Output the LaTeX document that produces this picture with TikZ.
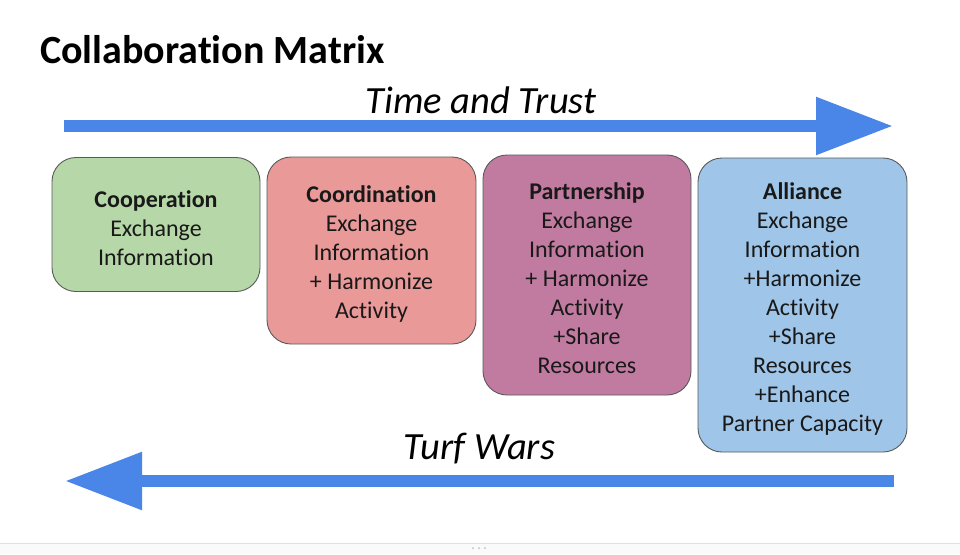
\documentclass[tikz,border=0pt]{standalone}
\usepackage{fontspec}
\setmainfont{Carlito}[Ligatures=NoCommon, RawFeature={-liga;-clig;-calt}]
\usetikzlibrary{arrows.meta}
\definecolor{arrowblue}{HTML}{4A86E8}
\definecolor{cgreen}{HTML}{B6D7A8}
\definecolor{cred}{HTML}{EA9999}
\definecolor{cpurple}{HTML}{C27BA0}
\definecolor{cblue}{HTML}{9FC5E8}
\definecolor{edgegray}{HTML}{5A5A5A}
\newcommand{\firstrule}{\rule{0pt}{24pt}}
\tikzset{
  stagebox/.style={draw=edgegray, line width=0.9pt, rounded corners=24pt,
    inner sep=0pt, align=center, text=black!90,
    font=\fontsize{24}{29}\selectfont},
  bigarrow/.style={draw=arrowblue, line width=12pt,
    -{Triangle[length=77pt, width=55pt]}},
  bandlabel/.style={anchor=base, font=\fontsize{38.5}{44}\selectfont\itshape}
}
\begin{document}
\begin{tikzpicture}[x=1pt, y=-1pt]
\useasboundingbox (0,0) rectangle (960,554);
\fill[white] (0,0) rectangle (960,554);
% bottom strip
\fill[black!2] (0,543.5) rectangle (960,554);
\draw[black!12, line width=0.8pt] (0,543.5) -- (960,543.5);
\foreach \dx in {-6,0,6} \fill[black!25] (479+\dx,548) circle (1pt);

% title
\node[anchor=base west, inner sep=0pt, font=\fontsize{40}{46}\selectfont\bfseries] (title) at (40,63) {Collaboration Matrix};

% top arrow
\coordinate (ta) at (64,126);
\coordinate (tb) at (893,126);
\draw[bigarrow] (ta) -- (tb);
\node[bandlabel, inner sep=0pt] (tt) at (481,113) {Time and Trust};

% boxes
\node[stagebox, fill=cgreen, minimum width=208pt, minimum height=134pt] (coop) at (156,224.5)
  {\firstrule\textbf{Cooperation}\\Exchange\\Information};
\node[stagebox, fill=cred, minimum width=209pt, minimum height=187pt] (coord) at (371.5,250.5)
  {\firstrule\textbf{Coordination}\\Exchange\\Information\\+ Harmonize\\Activity};
\node[stagebox, fill=cpurple, minimum width=208pt, minimum height=240pt] (part) at (587,275)
  {\firstrule\textbf{Partnership}\\Exchange\\Information\\+ Harmonize\\Activity\\+Share\\Resources};
\node[stagebox, fill=cblue, minimum width=209pt, minimum height=294pt] (all) at (802.5,305)
  {\firstrule\textbf{Alliance}\\Exchange\\Information\\+Harmonize\\Activity\\+Share\\Resources\\+Enhance\\Partner Capacity};

% bottom arrow
\coordinate (ba) at (894,481);
\coordinate (bb) at (65,481);
\draw[bigarrow] (ba) -- (bb);
\node[bandlabel, inner sep=0pt] (tw) at (479.5,459) {Turf Wars};
\end{tikzpicture}
\end{document}
